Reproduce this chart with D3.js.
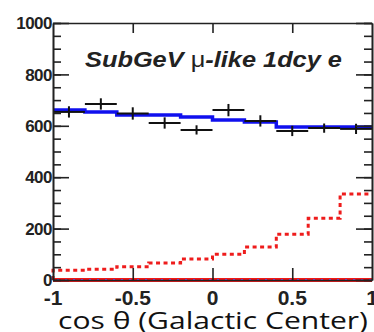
<html>

<head>
    <title>SubGeV mu-like</title>
    <script src='https://d3js.org/d3.v7.min.js'></script>
    <style>
        body { margin: 0; background: white; }
        .ylab { font-family: 'Liberation Sans', Arial, sans-serif; font-weight: bold; font-size: 17px; fill: #222; }
        .xlab { font-family: 'Liberation Sans', Arial, sans-serif; font-weight: bold; font-size: 21px; fill: #222; }
    </style>
</head>

<body>
    <svg id="chart"></svg>
    <script>
        // bin lower edges, width 0.2
        var binLo = [-1, -0.8, -0.6, -0.4, -0.2, 0, 0.2, 0.4, 0.6, 0.8];
        var dataVals = [654, 685, 648, 611, 584, 661, 619, 580, 591, 588];
        var dataErr = [22, 22, 24, 22, 18, 24, 22, 20, 18, 20];
        var mcVals = [661, 654, 642, 642, 634, 623, 615, 595, 595, 595];
        var sigVals = [38, 42, 52, 66, 82, 100, 128, 178, 240, 335];
        var yTicks = [0, 200, 400, 600, 800, 1000];
        var xTicks = [-1, -0.5, 0, 0.5, 1];
        var xTickLabels = ["-1", "-0.5", "0", "0.5", "1"];

        var W = 374, H = 332;
        var padL = 53, padR = 372, padT = 23, padB = 280;
        var binW = 0.2;

        var x = d3.scaleLinear().domain([-1, 1]).range([padL, padR]);
        var y = d3.scaleLinear().domain([0, 1000]).range([padB, padT]);

        var svg = d3.select("#chart").attr("width", W).attr("height", H);

        // histograms
        var step = d3.line().x(function (d) { return x(d[0]); }).y(function (d) { return y(d[1]); }).curve(d3.curveStepAfter);

        var mcPts = binLo.map(function (b, i) { return [b, mcVals[i]]; });
        mcPts.push([1, mcVals[mcVals.length - 1]]);
        svg.append("path").attr("d", step(mcPts))
            .attr("fill", "none").attr("stroke", "#1010ee").attr("stroke-width", 3.5);

        var sigPts = [[-1, 0]].concat(binLo.map(function (b, i) { return [b, sigVals[i]]; }));
        sigPts.push([1, sigVals[sigVals.length - 1]]);
        svg.append("path").attr("d", step(sigPts))
            .attr("fill", "none").attr("stroke", "#ee1c1c").attr("stroke-width", 3)
            .attr("stroke-dasharray", "4,3.5");

        // zero line (red solid with blue dots)
        svg.append("line").attr("x1", x(-1)).attr("x2", x(1)).attr("y1", y(0)).attr("y2", y(0))
            .attr("stroke", "#f01818").attr("stroke-width", 4);
        svg.append("line").attr("x1", x(-1) + 4).attr("x2", x(1)).attr("y1", y(0)).attr("y2", y(0))
            .attr("stroke", "#6a4cff").attr("stroke-width", 2).attr("stroke-dasharray", "2,6");

        // data crosses
        var pts = svg.append("g").attr("stroke", "#111").attr("stroke-width", 2);
        binLo.forEach(function (b, i) {
            pts.append("line").attr("x1", x(b)).attr("x2", x(b + binW))
                .attr("y1", y(dataVals[i])).attr("y2", y(dataVals[i]));
            pts.append("line").attr("x1", x(b + binW / 2)).attr("x2", x(b + binW / 2))
                .attr("y1", y(dataVals[i] - dataErr[i])).attr("y2", y(dataVals[i] + dataErr[i]));
        });

        // axes with inward ticks
        var minor = d3.range(0, 1001, 50);
        svg.append("g").attr("transform", "translate(" + padL + ",0)")
            .call(d3.axisLeft(y).tickValues(minor).tickSize(-8).tickSizeOuter(0).tickFormat(""));
        svg.append("g").attr("transform", "translate(" + padL + ",0)")
            .call(d3.axisLeft(y).tickValues(yTicks).tickSize(-16).tickSizeOuter(0).tickFormat(""));
        svg.append("g").attr("transform", "translate(" + padR + ",0)")
            .call(d3.axisRight(y).tickValues(minor).tickSize(-8).tickSizeOuter(0).tickFormat(""));
        svg.append("g").attr("transform", "translate(" + padR + ",0)")
            .call(d3.axisRight(y).tickValues(yTicks).tickSize(-16).tickSizeOuter(0).tickFormat(""));
        svg.append("g").attr("transform", "translate(0," + padB + ")")
            .call(d3.axisBottom(x).tickValues([-0.5, 0, 0.5]).tickSize(-12).tickSizeOuter(0).tickFormat(""));
        svg.append("g").attr("transform", "translate(0," + padT + ")")
            .call(d3.axisTop(x).tickValues([-0.5, 0, 0.5]).tickSize(-10).tickSizeOuter(0).tickFormat(""));
        svg.selectAll(".domain, .tick line").attr("stroke", "#222").attr("stroke-width", 1.6);

        // tick labels
        svg.selectAll(".ylab").data(yTicks).enter().append("text").attr("class", "ylab")
            .attr("x", padL - 1).attr("y", function (d) { return y(d); }).attr("dy", "0.36em")
            .attr("text-anchor", "end").attr("letter-spacing", "-0.5").text(function (d) { return d; });
        svg.selectAll(".xlab").data(xTicks).enter().append("text").attr("class", "xlab")
            .attr("x", function (d) { return x(d); }).attr("y", 305)
            .attr("text-anchor", "middle").text(function (d, i) { return xTickLabels[i]; });

        // axis title
        svg.append("text").attr("x", 58).attr("y", 329)
            .attr("font-family", "'Open Sans', sans-serif").attr("font-size", 23).attr("fill", "#111")
            .attr("textLength", 310).attr("lengthAdjust", "spacingAndGlyphs")
            .text("cos \u03b8 (Galactic Center)");

        // sample label
        var lab = svg.append("text").attr("x", 85).attr("y", 67)
            .attr("font-family", "'Liberation Sans', Arial, sans-serif").attr("font-size", 22)
            .attr("font-weight", "bold").attr("font-style", "italic").attr("fill", "#222")
            .attr("textLength", 257).attr("lengthAdjust", "spacingAndGlyphs");
        lab.append("tspan").text("SubGeV ");
        lab.append("tspan").attr("font-style", "normal").attr("font-weight", "normal").text("\u03bc");
        lab.append("tspan").text("-like 1dcy e");
    </script>
</body>

</html>
